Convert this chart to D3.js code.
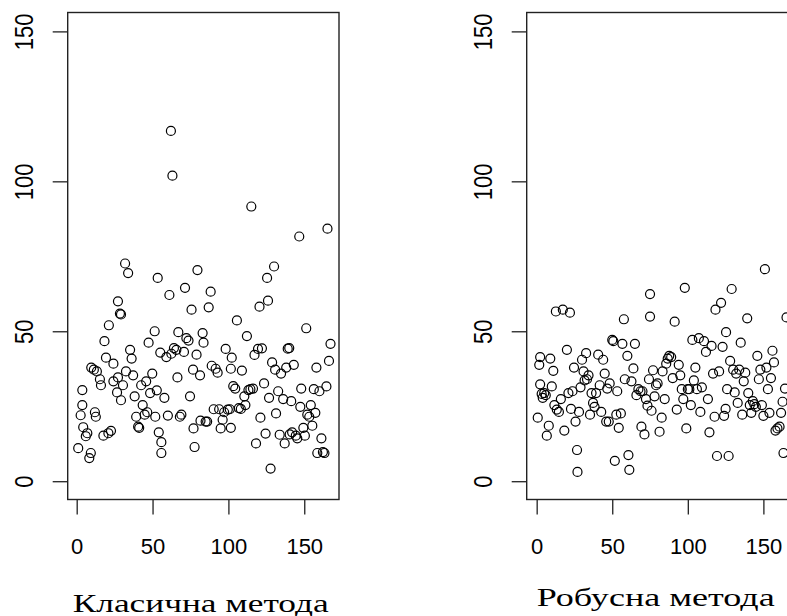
<!DOCTYPE html>
<html>
<head>
<meta charset="utf-8">
<script src="https://cdn.jsdelivr.net/npm/d3@7"></script>
<style>
  body { margin: 0; background: #fff; }
  svg { display: block; }
</style>
</head>
<body>
<script>
// Класична метода: редни број (x) и вредност (y)
var klasX = [1,2.6,3.7,3.7,4.3,6,7,8.3,9.3,9.6,11.3,12,12.6,13.3,15.3,16,17.6,18.3,19.3,20.9,
  21.2,22.6,24.2,24.2,26.6,27.2,27.2,28.5,29.2,29.2,30.5,31.9,32.5,33.9,35.2,36.2,37.2,38.2,39.2,40.5,
  41.2,42.5,43.5,44.8,45.8,46.5,47.4,48.4,49.8,51.4,51.8,52.8,53.4,54.1,55.1,55.8,55.8,57.8,59.1,60.1,
  61.1,62.1,62.4,63.1,64.1,65.7,66.4,67,68,69,70.7,71.4,72.3,73.7,74.7,75.7,76.7,77,77.7,79,
  79.6,81.3,81.6,83,83.6,85,86,87,88.3,89,90.3,91.6,92.9,93.9,94.9,96.2,97.2,98.2,99.6,100.9,
  101.6,101.6,102.2,103.2,104.5,105.6,106.9,108.2,108.9,110.5,111.2,112.2,113.2,114.5,115.1,116.2,117.2,118.2,119.5,120.5,
  121.1,122.1,123.5,124.5,125.5,126.1,126.8,127.8,128.8,130.1,130.8,131.4,132.8,133.8,134.7,136.1,137.1,138.1,139.1,140.1,
  140.4,141.4,142,143.1,144.4,145.4,146.7,147.4,148,149.4,150.4,151.3,152,153.3,154.3,155.3,156.3,157.3,158,158.6,
  160,161.3,162.3,163.3,164.6,165.3,166.3,167.3];
var klasY = [11,22,30.4,25.4,18,15,16,7.7,9.4,37.9,37.2,23,21.5,36.6,34,32,15.2,46.7,41.2,16,
  52,16.8,39.2,33.3,29.6,60,34.6,55.9,55.6,27,32,72.6,36.6,69.4,43.8,40.9,35.3,28.3,21.5,18.2,
  17.8,32,25.4,22.2,33.3,23,46.2,29.4,35.9,50,21.5,30.3,67.8,16.3,42.9,13,9.4,27.8,41.4,21.9,
  62.1,116.8,42.5,101.9,44.4,43.8,34.6,49.7,21.5,22.2,43.1,64.5,47.7,46.9,28.3,57.2,37.2,17.6,11.4,42.2,
  70.4,35.3,20.2,49.4,46.2,19.9,19.9,58,63.2,38.5,24,37.5,36.2,24,17.6,20.5,23,44.1,23.9,24,
  37.5,17.8,41.2,31.7,30.9,53.6,24.4,24.1,36.9,28.3,25.4,48.4,30.4,30.7,91.6,30.9,42.1,12.6,44.1,58.2,
  21.2,44.3,32.6,15.9,67.8,60.2,27.8,4.2,39.6,71.6,37.2,22.6,30,15.5,35.9,27.4,12.6,37.9,44.2,44.4,
  15.6,26.7,16.3,38.8,15.2,14.3,81.6,24.8,30.9,17.8,15.2,51,22.2,21.5,25.4,18.5,30.7,22.8,37.9,9.4,
  30,14.3,9.7,9.4,31.6,84.2,40.1,45.8];

// Робусна метода
var robX = [0.7,1.7,2.3,2.3,3.3,4,5,6,6.7,8,9,10,11,11.7,12.7,13.3,14.7,16,17.3,18.3,
  20,21,22,22.7,23.7,24.7,25.7,26.7,27,28,29,30,31,31.7,32.7,33.3,34.3,35.3,36.3,37.3,
  38.3,39.3,40.7,41.7,42.7,44,45,46,46.7,47.7,48.3,50,50.7,51.7,52.7,53.3,54.3,55.7,56.7,57.7,
  58.3,60,60.7,61.3,62.7,64,65,66,67.3,68.7,69.3,70,71.3,72.3,73.3,74.3,75,75,76,77,
  78,79,80,81.3,82.7,83.3,84.7,85.7,86.7,87.7,89,90,91.3,92.7,94,95,96,97,98,99,
  100,101,102,103,104,105,106,107.3,108.3,109.3,110.7,112,113.3,114.3,115.7,116.7,117.7,118.3,119.3,120.7,
  122,123,124,125,125.3,126,127,128,129,130,131,132,133,134,135,136,137,138,139.3,140,
  141,142,143,144,145,146,147,148,149,150,151,152,153,154,155,156,157,158,159.3,160.7,
  161.7,162.7,163.3,164.3,165.3];
var robY = [21.2,38.8,41.4,32.3,29.1,27.8,29.4,28.7,15.2,18.5,40.9,31.6,36.8,25.4,56.6,23.9,23.1,27.4,57.2,16.9,
  43.8,29.4,56.2,24.1,30,37.9,19.9,10.4,3.1,23.1,31.3,40.5,36.6,33.6,42.7,34,35.3,22.2,29.4,26.1,
  24.8,29.4,42.2,32,23.1,40.5,35.9,19.9,30.9,19.9,32.6,47.1,46.7,6.8,22.2,30,17.8,22.6,45.8,54,
  34,41.8,8.7,3.8,33.3,37.6,45.8,28.7,30.7,30,18.2,30,15.6,27.4,25.2,34,62.4,54.9,23.5,37,
  28.3,32,32.6,16.5,21.2,36.6,27.4,39.2,40.9,41.8,41.4,34.4,53.2,23.9,38.8,35.3,30.7,27.4,64.5,17.6,
  30.7,30.7,25.4,47.1,33.6,37.9,30.7,47.7,23.1,31.3,46.7,43.1,27.4,16.3,45.1,35.9,21.5,57.2,8.4,36.6,
  59.5,44.8,21.8,24.1,49.7,30.7,8.4,40.1,64.1,37.2,29.6,35.9,26.1,37.2,46.2,22.2,33.3,36.2,54.3,29.4,
  25.4,22.8,26.7,25.7,24.8,41.8,34,37.2,25.4,21.8,70.7,37.9,30.7,22.8,34.4,43.5,39.6,16.9,17.6,18.2,
  22.8,26.5,9.4,30.9,54.6];

var yTicks = [0, 50, 100, 150];
var xTicks = [0, 50, 100, 150];
var titles = ["Класична метода", "Робусна метода"];

var W = 787, H = 616;
var svg = d3.select("body").append("svg")
    .attr("width", W)
    .attr("height", H);

function drawPanel(opts) {
    var x = d3.scaleLinear().domain(opts.xDomain).range([opts.left, opts.right]);
    var y = d3.scaleLinear().domain([-6.1, 156.3]).range([499.5, 12.5]);

    var g = svg.append("g");

    // оквир
    g.append("rect")
        .attr("x", opts.left).attr("y", y.range()[1])
        .attr("width", opts.right - opts.left)
        .attr("height", y.range()[0] - y.range()[1])
        .attr("fill", "none")
        .attr("stroke", "#222")
        .attr("stroke-width", 1.4);

    // тачке
    g.append("g").selectAll("circle")
        .data(opts.xs.map(function(d, i) { return [d, opts.ys[i]]; }))
        .join("circle")
        .attr("cx", function(d) { return x(d[0]); })
        .attr("cy", function(d) { return y(d[1]); })
        .attr("r", 4.5)
        .attr("fill", "none")
        .attr("stroke", "#000")
        .attr("stroke-width", 1.2);

    // y оса
    var yAx = g.append("g")
        .attr("transform", "translate(" + opts.left + ",0)")
        .call(d3.axisLeft(y).tickValues(yTicks).tickSize(15).tickFormat(d3.format("d")));
    yAx.select(".domain").remove();
    yAx.selectAll("line").attr("stroke", "#222").attr("stroke-width", 1.3);
    yAx.selectAll("text")
        .attr("x", null).attr("dy", null)
        .attr("text-anchor", "middle")
        .attr("transform", "translate(-34.7,0) rotate(-90) scale(1,1.18)")
        .style("font-family", "'Liberation Sans', Arial, sans-serif")
        .style("font-size", "22px")
        .attr("fill", "#000");

    // x оса
    var xAx = g.append("g")
        .attr("transform", "translate(0," + y.range()[0] + ")")
        .call(d3.axisBottom(x).tickValues(xTicks).tickSize(15).tickFormat(d3.format("d")));
    xAx.select(".domain").remove();
    xAx.selectAll("line").attr("stroke", "#222").attr("stroke-width", 1.3);
    xAx.selectAll("text")
        .attr("y", 54.5).attr("dy", 0)
        .style("font-family", "'Liberation Sans', Arial, sans-serif")
        .style("font-size", "22px")
        .attr("fill", "#000");

    // наслов испод
    g.append("text")
        .attr("x", opts.titleX)
        .attr("y", opts.titleY)
        .attr("textLength", opts.titleW)
        .attr("lengthAdjust", "spacingAndGlyphs")
        .style("font-family", "'Liberation Serif', 'Times New Roman', serif")
        .style("font-size", "26px")
        .attr("fill", "#000")
        .text(opts.title);
}

drawPanel({
    xs: klasX, ys: klasY,
    xDomain: [-5.93, 172.9], left: 67.7, right: 339,
    title: titles[0], titleX: 72.7, titleY: 611.5, titleW: 256
});

drawPanel({
    xs: robX, ys: robY,
    xDomain: [-6.6, 172.9], left: 526.7, right: 798,
    title: titles[1], titleX: 536.7, titleY: 606, titleW: 238
});
</script>
</body>
</html>
